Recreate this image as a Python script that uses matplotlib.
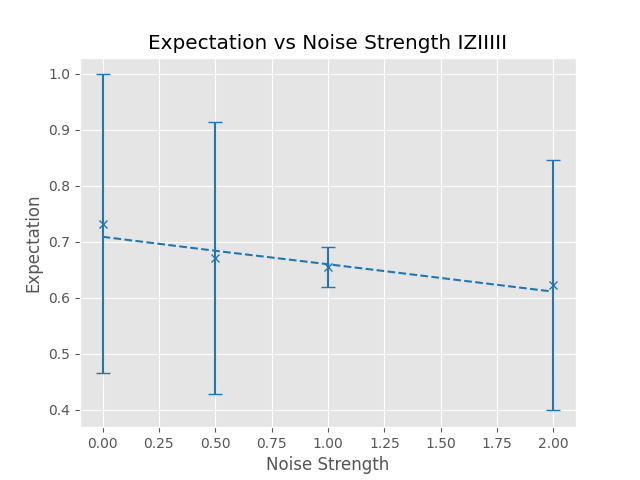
import matplotlib
matplotlib.use('Agg')
import matplotlib.pyplot as plt

plt.style.use('ggplot')

noise = [0.0, 0.5, 1.0, 2.0]
expectation = [0.732, 0.671, 0.655, 0.623]
errors = [0.267, 0.243, 0.035, 0.224]
fit_values = [0.709, 0.684, 0.660, 0.611]

fig, ax = plt.subplots(figsize=(6.4, 4.8), dpi=100)
ax.errorbar(noise, expectation, yerr=errors, fmt='x', color='tab:blue', capsize=5)
ax.plot(noise, fit_values, linestyle='--', color='tab:blue')

ax.set_title('Expectation vs Noise Strength IZIIIII')
ax.set_xlabel('Noise Strength')
ax.set_ylabel('Expectation')

fig.savefig('out.png')
